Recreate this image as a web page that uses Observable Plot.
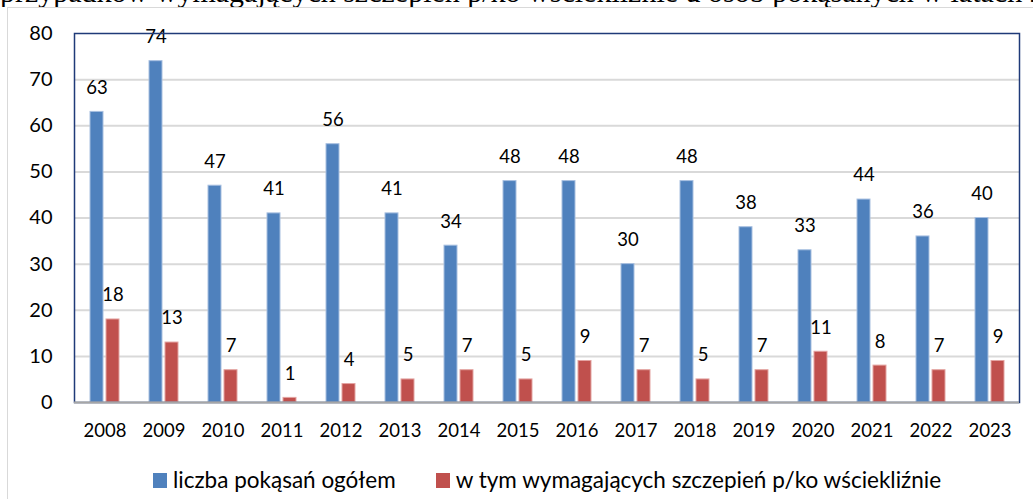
<!DOCTYPE html>
<html>
<head>
<meta charset="utf-8">
<script src="https://cdn.jsdelivr.net/npm/d3@7"></script>
<script src="https://cdn.jsdelivr.net/npm/@observablehq/plot@0.6"></script>
<style>
  html, body { margin: 0; padding: 0; background: #fff; }
  body { width: 1033px; height: 499px; overflow: hidden; position: relative; font-family: Lato, "Open Sans", sans-serif; }
  #cut { position: absolute; left: 0; top: 0; width: 1033px; height: 7px; overflow: hidden; }
  #cut span { position: absolute; left: 0; top: -25px; font-family: "Liberation Serif", "Times New Roman", serif; font-size: 30px; line-height: 34px; white-space: nowrap; color: #000; }
  #frame { position: absolute; left: 7px; top: 7px; width: 1040px; height: 500px; border-left: 1.5px solid #d9d9d9; border-top: 1.5px solid #d9d9d9; box-sizing: border-box; }
  #chart { position: absolute; left: 0; top: 0; }
  #legend { position: absolute; left: 153px; top: 466px; display: flex; align-items: center; font-size: 22.5px; line-height: 28px; color: #000; white-space: nowrap; }
  #legend .item { display: flex; align-items: center; }
  #legend .sw { width: 14px; height: 15px; margin-right: 6px; }
  #legend .item + .item { margin-left: 40px; }
</style>
</head>
<body>
<div id="cut"><span>przypadków wymagających szczepień p/ko wściekliźnie u osób pokąsanych w latach 2008-2023</span></div>
<div id="frame"></div>
<div id="chart"></div>
<div id="legend"></div>
<script>
const years = ["2008","2009","2010","2011","2012","2013","2014","2015","2016","2017","2018","2019","2020","2021","2022","2023"];
const totalBites = [63,74,47,41,56,41,34,48,48,30,48,38,33,44,36,40];
const needingVaccine = [18,13,7,1,4,5,7,5,9,7,5,7,11,8,7,9];
const yTicks = [0,10,20,30,40,50,60,70,80];
const seriesNames = ["liczba pokąsań ogółem", "w tym wymagających szczepień p/ko wściekliźnie"];
const seriesColors = ["#4F81BD", "#C0504D"];

const rows = years.map((y, i) => ({year: y, total: totalBites[i], vacc: needingVaccine[i]}));

const chart = Plot.plot({
  width: 1033,
  height: 450,
  marginLeft: 74,
  marginRight: 14,
  marginTop: 33,
  marginBottom: 48,
  style: {fontFamily: "Lato, 'Open Sans', sans-serif", fontSize: "18px", color: "#000", background: "transparent", overflow: "visible"},
  x: {domain: years, paddingInner: 0.509, paddingOuter: 0.2545, label: null},
  y: {domain: [0, 80], label: null},
  marks: [
    Plot.ruleY(yTicks.filter(t => t > 0 && t < 80), {stroke: "#d9d9d9", strokeWidth: 2}),
    Plot.barY(rows, {x: "year", y: "total", fill: seriesColors[0], stroke: "#a7bfe0", strokeWidth: 1, insetRight: 16}),
    Plot.barY(rows, {x: "year", y: "vacc", fill: seriesColors[1], stroke: "#e3a3a1", strokeWidth: 1, insetLeft: 16}),
    Plot.text(rows, {x: "year", y: "total", text: d => String(d.total), dx: -8, dy: -24, fontSize: 18.5, fill: "#000"}),
    Plot.text(rows, {x: "year", y: "vacc", text: d => String(d.vacc), dx: 8, dy: -24, fontSize: 18.5, fill: "#000"}),
    Plot.frame({stroke: "#1f3a78", strokeWidth: 1.5}),
    Plot.ruleY([0], {stroke: "#a6a6a6", strokeWidth: 2}),
    Plot.axisY({ticks: yTicks, tickSize: 0, tickPadding: 22, fontSize: 20, label: null}),
    Plot.axisX({tickSize: 0, tickPadding: 21, fontSize: 18.5, label: null})
  ]
});
document.getElementById("chart").appendChild(chart);

const legend = document.getElementById("legend");
seriesNames.forEach((name, i) => {
  const item = document.createElement("div");
  item.className = "item";
  const sw = document.createElement("span");
  sw.className = "sw";
  sw.style.background = seriesColors[i];
  const label = document.createElement("span");
  label.textContent = name;
  item.appendChild(sw);
  item.appendChild(label);
  legend.appendChild(item);
});
</script>
</body>
</html>
